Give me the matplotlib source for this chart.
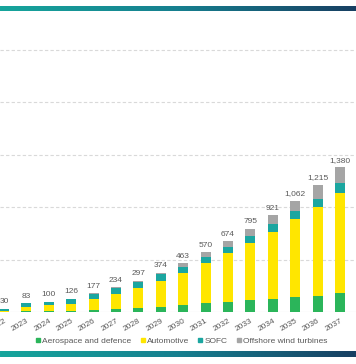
import numpy as np
import matplotlib
matplotlib.use('Agg')
import matplotlib.pyplot as plt
from matplotlib.colors import LinearSegmentedColormap
from matplotlib.lines import Line2D

plt.rcParams['font.family'] = ['Liberation Sans', 'DejaVu Sans']

years = [str(y) for y in range(2022, 2038)]
aerospace = [2, 5, 8, 10, 20, 30, 40, 50, 70, 85, 100, 115, 125, 145, 155, 180]
automotive = [3, 45, 55, 70, 100, 140, 190, 250, 305, 385, 460, 545, 640, 745, 850, 960]
sofc = [25, 33, 37, 45, 55, 60, 60, 60, 58, 55, 60, 65, 70, 70, 75, 95]
wind = [0, 0, 0, 1, 2, 4, 7, 14, 30, 45, 54, 70, 86, 102, 135, 145]
totals = [30, 83, 100, 126, 177, 234, 297, 374, 463, 570, 674, 795, 921, 1062, 1215, 1380]

labels = ['Aerospace and defence', 'Automotive', 'SOFC', 'Offshore wind turbines']
colors = ['#2BB55A', '#FFE600', '#1BA6A0', '#A5A5A5']
txt = '#595959'

W, H = 356, 364
fig = plt.figure(figsize=(W / 100, H / 100), dpi=100)

# main axes: baseline at 312 px, 500 units = 52.4 px, bar 2022 centred at x=4 px
step = 22.4
x0 = 4.0
ymax = 2600
ax_h = ymax / 500 * 52.4
ax = fig.add_axes([0, (H - 312) / H, 1, ax_h / H])
ax.set_xlim(-x0 / step, (W - x0) / step)
ax.set_ylim(0, ymax)

x = np.arange(len(years))
bottom = np.zeros(len(years))
for vals, c, lab in zip([aerospace, automotive, sofc, wind], colors, labels):
    ax.bar(x, vals, width=0.45, bottom=bottom, color=c, label=lab, zorder=3)
    bottom += np.array(vals)

for xi, t in zip(x, totals):
    ax.text(xi, t + 35, '{:,}'.format(t), ha='center', va='bottom',
            fontsize=6, color=txt, zorder=4)

for gy in [500, 1000, 1500, 2000, 2500]:
    ax.axhline(gy, color='#D9D9D9', lw=0.8, ls=(0, (3, 2)), zorder=1)
ax.axhline(0, color='#D9D9D9', lw=0.8, zorder=2)

for s in ax.spines.values():
    s.set_visible(False)
ax.set_yticks([])
ax.set_xticks(x)
ax.set_xticklabels(years, rotation=30, ha='right', rotation_mode='anchor',
                   fontsize=6, color=txt)
ax.tick_params(axis='x', length=0, pad=4)

# legend
handles = [Line2D([], [], marker='s', ls='none', color=c, markersize=3) for c in colors]
leg = fig.legend(handles, labels, loc='center', bbox_to_anchor=(0.51, (H - 341) / H),
                 ncol=4, frameon=False, fontsize=6, handlelength=0.5,
                 handletextpad=0.25, columnspacing=1.1, labelcolor=txt)

# gradient strips top and bottom
cmap = LinearSegmentedColormap.from_list('band', ['#17A59C', '#167F8F', '#183F62'])
grad = np.linspace(0, 1, 256).reshape(1, -1)
for y_top, y_bot in [(6, 11), (351, 357)]:
    bax = fig.add_axes([0, (H - y_bot) / H, 1, (y_bot - y_top) / H])
    bax.imshow(grad, aspect='auto', cmap=cmap)
    bax.axis('off')

fig.savefig('out.png', dpi=100)
